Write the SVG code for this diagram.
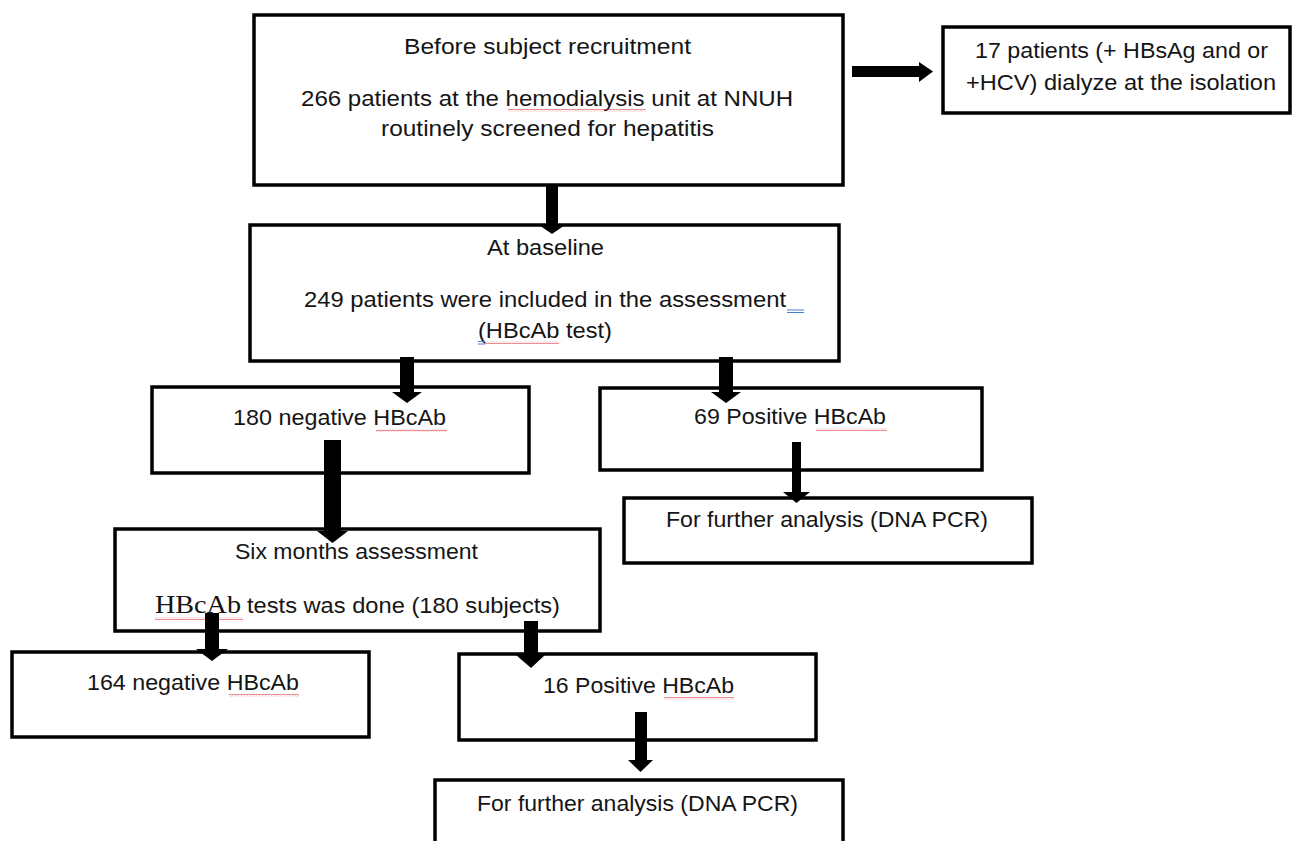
<svg xmlns="http://www.w3.org/2000/svg" width="1293" height="841" viewBox="0 0 1293 841">
<defs>
<style>
.box{fill:#fff;stroke:#000;stroke-width:3.5}
.t{font-family:"Liberation Sans",Arial,sans-serif;font-size:22px;fill:#151515}
.ser{font-family:"Liberation Serif","Times New Roman",serif;font-size:26px;fill:#151515}
.arr{fill:#000}
.sq{fill:url(#wavePat)}
.bl{fill:none;stroke:#4a7fd0;stroke-width:1}
</style>
<pattern id="wavePat" patternUnits="userSpaceOnUse" width="3" height="3">
<path d="M0,0.6 L1.5,2.2 L3,0.6" fill="none" stroke="#d8202a" stroke-width="0.8"/>
</pattern>
</defs>
<rect width="1293" height="841" fill="#fff"/>

<g id="n1">
<rect class="box" x="254" y="15" width="589" height="170"/>
<text class="t" x="404" y="54" textLength="287" lengthAdjust="spacingAndGlyphs">Before subject recruitment</text>
<text class="t" x="301" y="106" textLength="492" lengthAdjust="spacingAndGlyphs">266 patients at the hemodialysis unit at NNUH</text>
<text class="t" x="381" y="136" textLength="333" lengthAdjust="spacingAndGlyphs">routinely screened for hepatitis</text>
<rect class="sq" x="508" y="109" width="138" height="3"/>
</g>

<g id="n2">
<rect class="box" x="943" y="27" width="347" height="86"/>
<text class="t" x="975" y="58" textLength="293" lengthAdjust="spacingAndGlyphs">17 patients (+ HBsAg and or</text>
<text class="t" x="966" y="90" textLength="310" lengthAdjust="spacingAndGlyphs">+HCV) dialyze at the isolation</text>
</g>

<g id="n3">
<rect class="box" x="250" y="225" width="589" height="136"/>
<text class="t" x="487" y="255" textLength="117" lengthAdjust="spacingAndGlyphs">At baseline</text>
<text class="t" x="304" y="307" textLength="482" lengthAdjust="spacingAndGlyphs">249 patients were included in the assessment</text>
<text class="t" x="478" y="338" textLength="134" lengthAdjust="spacingAndGlyphs">(HBcAb test)</text>
<rect class="sq" x="484" y="341" width="75" height="3"/>
<path class="bl" d="M787,310 h17 M787,312.5 h17 M478,341.5 h7 M478,344 h7"/>
</g>

<g id="n4">
<rect class="box" x="152" y="387" width="377" height="86"/>
<text class="t" x="233" y="425" textLength="213" lengthAdjust="spacingAndGlyphs">180 negative HBcAb</text>
<rect class="sq" x="376" y="429" width="71" height="3"/>
</g>

<g id="n5">
<rect class="box" x="600" y="388" width="382" height="82"/>
<text class="t" x="694" y="424" textLength="192" lengthAdjust="spacingAndGlyphs">69 Positive HBcAb</text>
<rect class="sq" x="816" y="428" width="71" height="3"/>
</g>

<g id="n6">
<rect class="box" x="624" y="498" width="408" height="65"/>
<text class="t" x="666" y="527" textLength="322" lengthAdjust="spacingAndGlyphs">For further analysis (DNA PCR)</text>
</g>

<g id="n7">
<rect class="box" x="115" y="529" width="485" height="102"/>
<text class="t" x="235" y="559" textLength="243" lengthAdjust="spacingAndGlyphs">Six months assessment</text>
<text class="ser" x="155" y="613" textLength="86" lengthAdjust="spacingAndGlyphs">HBcAb</text>
<text class="t" x="247" y="613" textLength="313" lengthAdjust="spacingAndGlyphs">tests was done (180 subjects)</text>
<rect class="sq" x="155" y="617" width="88" height="3"/>
</g>

<g id="n8">
<rect class="box" x="12" y="652" width="357" height="85"/>
<text class="t" x="87" y="690" textLength="212" lengthAdjust="spacingAndGlyphs">164 negative HBcAb</text>
<rect class="sq" x="229" y="694" width="70" height="3"/>
</g>

<g id="n9">
<rect class="box" x="459" y="654" width="357" height="86"/>
<text class="t" x="543" y="693" textLength="191" lengthAdjust="spacingAndGlyphs">16 Positive HBcAb</text>
<rect class="sq" x="664" y="697" width="70" height="3"/>
</g>

<g id="n10">
<rect class="box" x="435" y="780" width="408" height="70"/>
<text class="t" x="477" y="811" textLength="321" lengthAdjust="spacingAndGlyphs">For further analysis (DNA PCR)</text>
</g>

<g id="connectors">
<polygon class="arr" points="852,66 919,66 919,62 933,71.5 919,82 919,77 852,77"/>
<polygon class="arr" points="546,185 558,185 558,225 565,225 552,234 539,225 546,225"/>
<polygon class="arr" points="400,357 414,357 414,392 422,392 407,403 392,392 400,392"/>
<polygon class="arr" points="719,357 733,357 733,392 741,392 726,403 711,392 719,392"/>
<polygon class="arr" points="792,442 801,442 801,492 810,492 796.5,503 783,492 792,492"/>
<polygon class="arr" points="324,440 341,440 341,531 348,531 332.5,543 317,531 324,531"/>
<polygon class="arr" points="205,613 219,613 219,649 228,649 212,661 196,649 205,649"/>
<polygon class="arr" points="524,621 538,621 538,655 545,655 531,668 516,655 524,655"/>
<polygon class="arr" points="635,712 647,712 647,760 653,760 640.5,772 628,760 635,760"/>
</g>
</svg>
